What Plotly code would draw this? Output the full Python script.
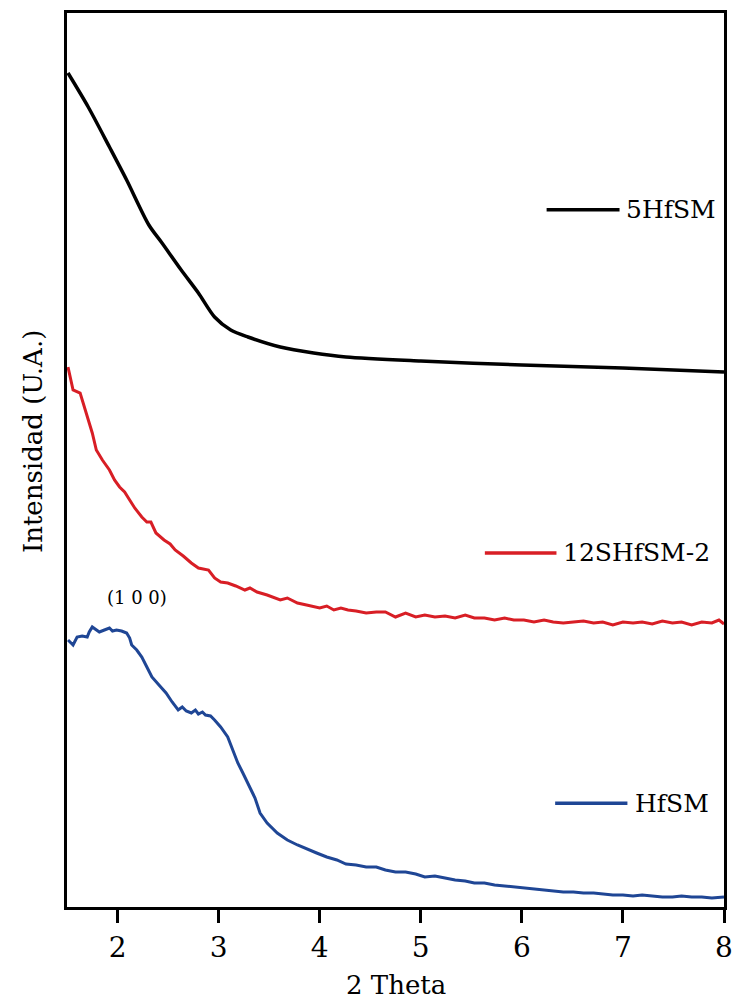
import plotly.graph_objects as go

# ---------------- data (2 Theta vs intensity, arbitrary units) ----------------
black_x = [1.51, 1.71, 1.92, 2.09, 2.31, 2.44, 2.63, 2.80, 2.96, 3.12, 3.29, 3.61,
           3.94, 4.26, 5.00, 6.00, 7.00, 8.00]
black_y = [834, 800, 760, 727, 682, 664, 637, 614, 590, 577, 570, 560,
           554, 550, 546, 542, 539, 535]

red_x = [1.51, 1.56, 1.63, 1.70, 1.75, 1.79, 1.85, 1.92, 1.97, 2.02, 2.07, 2.12,
         2.17, 2.24, 2.29, 2.33, 2.38, 2.46, 2.52, 2.57, 2.65, 2.73, 2.80, 2.90,
         2.96, 3.02, 3.09, 3.17, 3.26, 3.31, 3.38, 3.48, 3.61, 3.68, 3.78, 3.87,
         3.94, 4.00, 4.07, 4.14, 4.21, 4.28, 4.36, 4.46, 4.56, 4.65, 4.75, 4.85,
         4.95, 5.04, 5.14, 5.24, 5.34, 5.44, 5.53, 5.63, 5.73, 5.83, 5.92, 6.02,
         6.12, 6.22, 6.31, 6.41, 6.51, 6.61, 6.71, 6.80, 6.90, 7.00, 7.10, 7.19,
         7.29, 7.39, 7.49, 7.58, 7.68, 7.78, 7.88, 7.95, 8.00]
red_y = [540, 517, 514, 490, 474, 457, 447, 437, 427, 420, 415, 407,
         399, 390, 385, 385, 374, 367, 363, 357, 351, 344, 339, 337,
         329, 325, 324, 321, 317, 319, 315, 312, 307, 309, 304, 302,
         300, 299, 301, 297, 299, 297, 296, 294, 295, 295, 290, 294,
         290, 292, 290, 291, 289, 292, 289, 289, 287, 289, 287, 287,
         285, 287, 285, 284, 285, 286, 284, 285, 282, 285, 284, 285,
         283, 286, 284, 285, 282, 285, 284, 287, 283]

blue_x = [1.51, 1.56, 1.60, 1.65, 1.70, 1.72, 1.75, 1.79, 1.82, 1.87, 1.92, 1.95,
          1.99, 2.04, 2.09, 2.12, 2.14, 2.19, 2.24, 2.29, 2.34, 2.41, 2.48, 2.54,
          2.60, 2.64, 2.68, 2.73, 2.77, 2.80, 2.84, 2.87, 2.92, 2.96, 3.02, 3.09,
          3.14, 3.19, 3.24, 3.29, 3.36, 3.41, 3.48, 3.58, 3.68, 3.78, 3.87, 3.97,
          4.07, 4.17, 4.26, 4.36, 4.46, 4.56, 4.65, 4.75, 4.85, 4.95, 5.04, 5.14,
          5.24, 5.34, 5.44, 5.53, 5.63, 5.73, 5.83, 5.92, 6.02, 6.12, 6.22, 6.31,
          6.41, 6.51, 6.61, 6.71, 6.80, 6.90, 7.00, 7.10, 7.19, 7.29, 7.39, 7.49,
          7.58, 7.68, 7.78, 7.88, 8.00]
blue_y = [267, 262, 270, 271, 270, 275, 280, 277, 275, 277, 279, 276,
          277, 276, 274, 269, 262, 257, 250, 240, 230, 222, 214, 205,
          197, 200, 196, 194, 197, 193, 195, 192, 191, 187, 180, 170,
          157, 144, 134, 124, 109, 94, 84, 74, 67, 62, 58, 54,
          50, 47, 43, 42, 40, 40, 37, 35, 35, 33, 30, 31,
          29, 27, 26, 24, 24, 22, 21, 20, 19, 18, 17, 16,
          15, 15, 14, 14, 13, 12, 12, 11, 12, 11, 10, 10,
          11, 10, 10, 9, 10]

series_names = ["5HfSM", "12SHfSM-2", "HfSM"]
series_colors = ["#000000", "#d81e25", "#1f4695"]
x_ticks = [2, 3, 4, 5, 6, 7, 8]
peak_label = "(1 0 0)"
peak_pos = (2.19, 310)

FONT = "DejaVu Serif"

fig = go.Figure()
fig.add_trace(go.Scatter(x=black_x, y=black_y, mode="lines", name=series_names[0],
                         line=dict(color=series_colors[0], width=3.5, shape="spline", smoothing=0.8)))
fig.add_trace(go.Scatter(x=red_x, y=red_y, mode="lines", name=series_names[1],
                         line=dict(color=series_colors[1], width=3)))
fig.add_trace(go.Scatter(x=blue_x, y=blue_y, mode="lines", name=series_names[2],
                         line=dict(color=series_colors[2], width=3)))

# inline labels (legend-like), positions in paper coordinates
label_pos = [  # (line x0, line x1, y, text x)
    (0.730, 0.841, 0.780, 0.848),
    (0.636, 0.745, 0.396, 0.752),
    (0.743, 0.853, 0.116, 0.861),
]
for (x0, x1, yy, tx), name, col in zip(label_pos, series_names, series_colors):
    fig.add_shape(type="line", xref="paper", yref="paper", x0=x0, x1=x1, y0=yy, y1=yy,
                  line=dict(color=col, width=3.5))
    fig.add_annotation(xref="paper", yref="paper", x=tx, y=yy, text=name, showarrow=False,
                       xanchor="left", yanchor="middle", font=dict(family=FONT, size=25, color="black"))

fig.add_annotation(x=peak_pos[0], y=peak_pos[1], text=peak_label, showarrow=False,
                   font=dict(family=FONT, size=18, color="black"))

# axis titles as annotations for precise placement
fig.add_annotation(xref="paper", yref="paper", x=0.5, y=0, yshift=-78, text="2 Theta",
                   showarrow=False, xanchor="center", yanchor="middle",
                   font=dict(family=FONT, size=26, color="black"))
fig.add_annotation(xref="paper", yref="paper", x=0, xshift=-34, y=0.52, text="Intensidad (U.A.)",
                   showarrow=False, textangle=-90, xanchor="center", yanchor="middle",
                   font=dict(family=FONT, size=26, color="black"))

fig.update_layout(
    width=738, height=1005,
    margin=dict(l=67, r=5, t=13, b=98),
    paper_bgcolor="white", plot_bgcolor="white",
    showlegend=False,
    font=dict(family=FONT, size=26, color="black"),
)
fig.update_xaxes(range=[1.5, 8], tickvals=x_ticks, ticks="outside", ticklen=13, tickwidth=3,
                 tickcolor="black", showline=True, linewidth=3, linecolor="black", mirror=True,
                 showgrid=False, zeroline=False, ticklabeloverflow="allow",
                 tickfont=dict(family=FONT, size=28, color="black"))
fig.update_yaxes(range=[0, 894], showticklabels=False, ticks="", showline=True, linewidth=3,
                 linecolor="black", mirror=True, showgrid=False, zeroline=False)

fig.write_html("out.html")
